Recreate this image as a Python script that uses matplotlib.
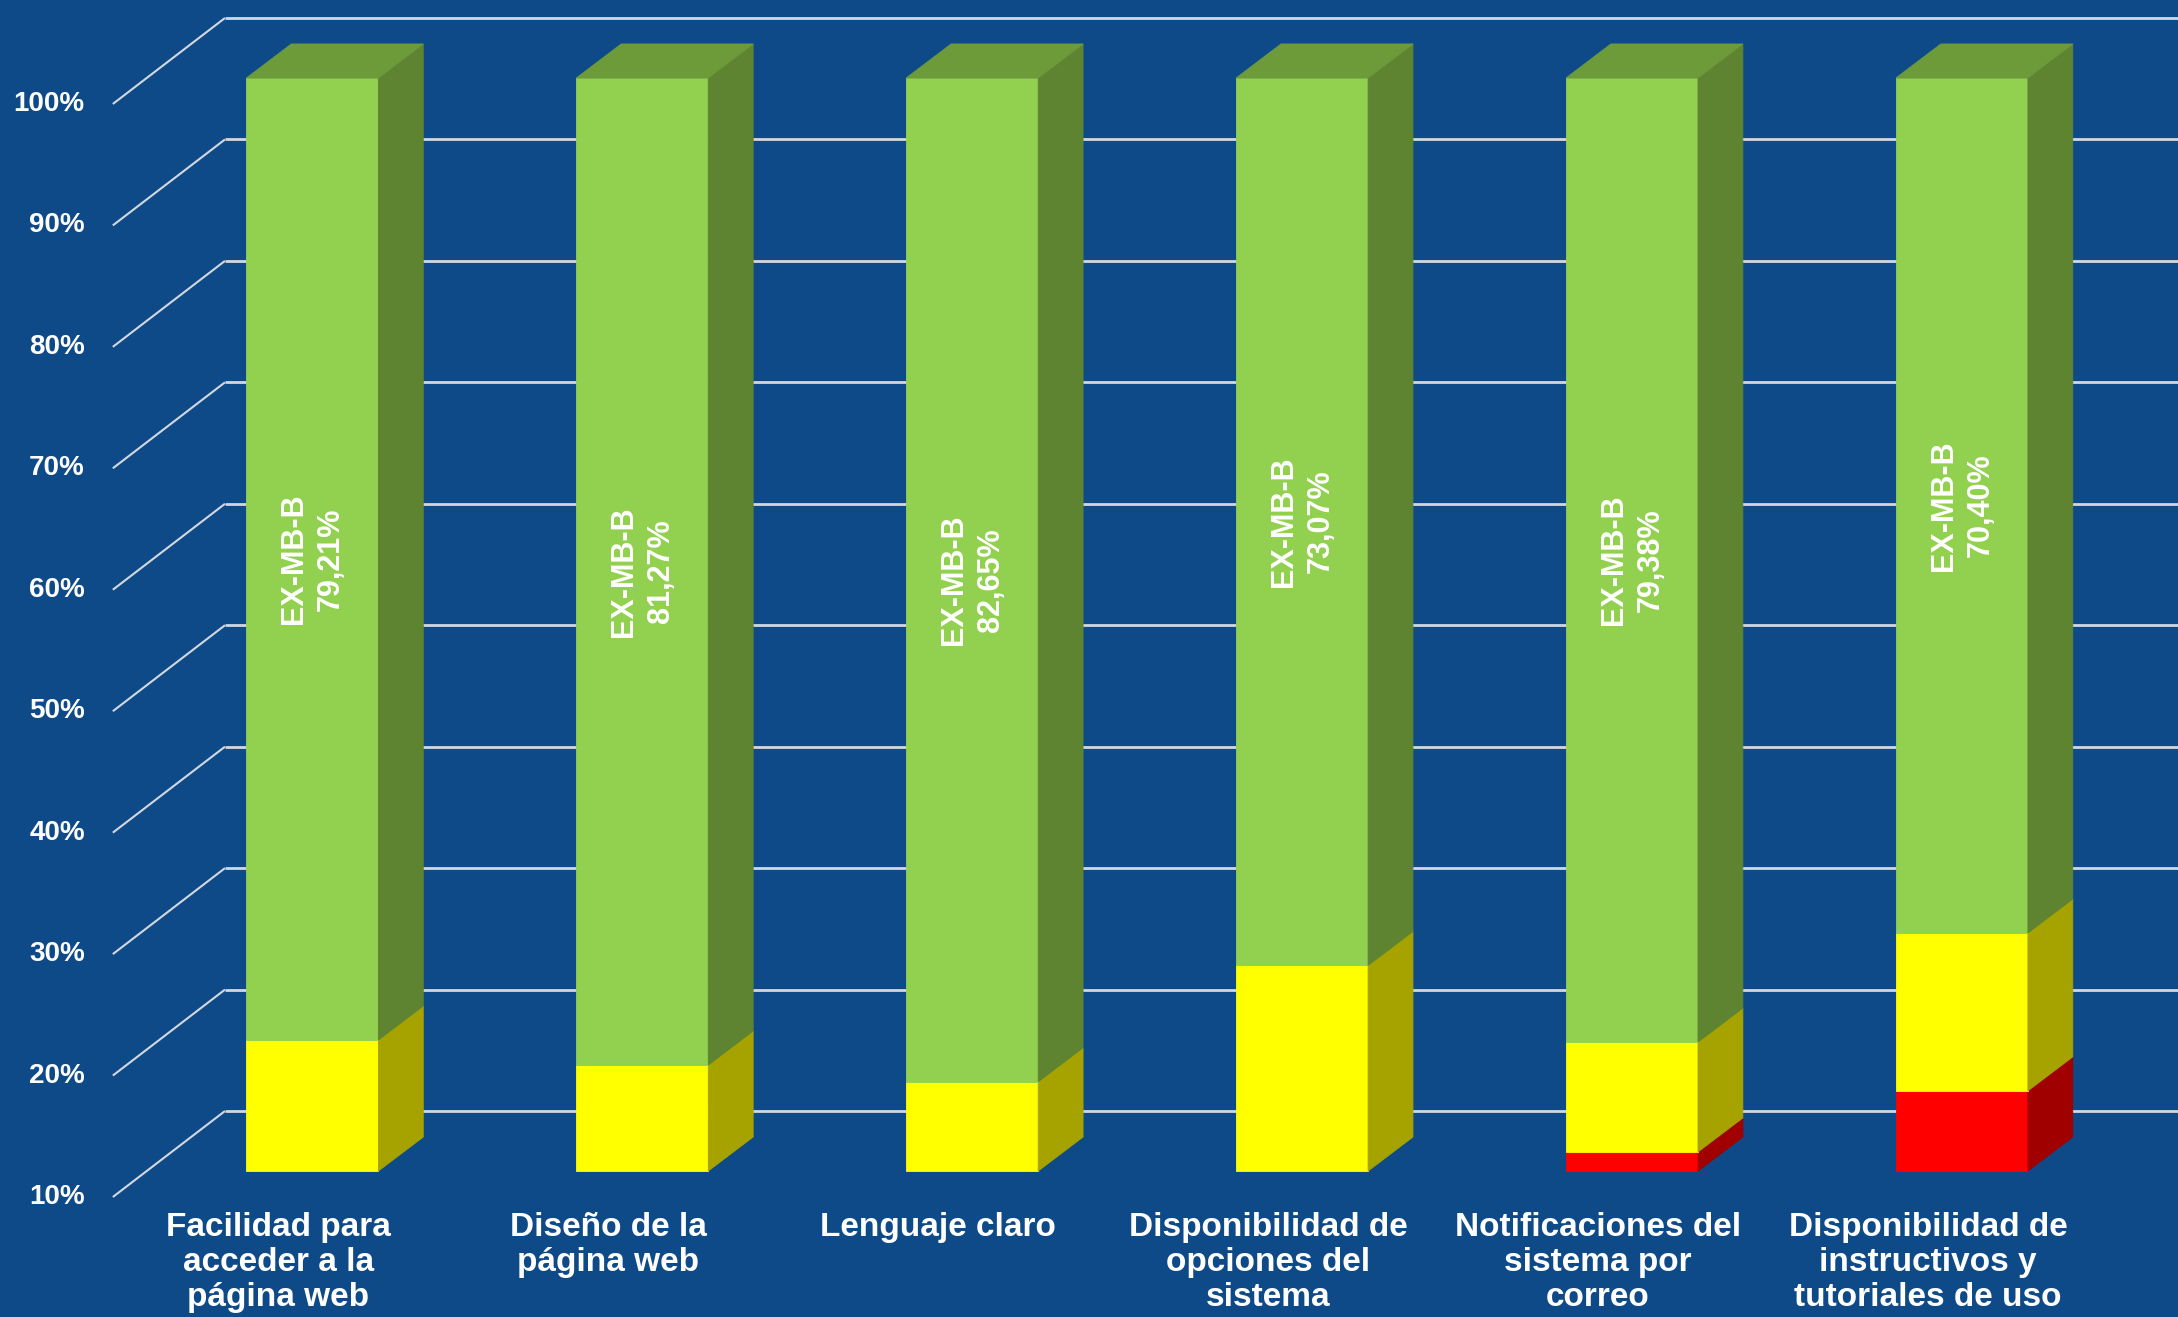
import numpy as np
import matplotlib
matplotlib.use('Agg')
import matplotlib.pyplot as plt
from matplotlib.patches import Polygon

plt.rcParams['font.family'] = ['Liberation Sans', 'DejaVu Sans']

# Data (percent of answers per item)
categories = ['Facilidad para\nacceder a la\npágina web',
              'Diseño de la\npágina web',
              'Lenguaje claro',
              'Disponibilidad de\nopciones del\nsistema',
              'Notificaciones del\nsistema por\ncorreo',
              'Disponibilidad de\ninstructivos y\ntutoriales de uso']
red_vals = [0.0, 0.0, 0.0, 0.0, 11.57, 16.60]
yellow_vals = [20.79, 18.73, 17.35, 26.93, 9.05, 13.00]
green_vals = [79.21, 81.27, 82.65, 73.07, 79.38, 70.40]
green_labels = ['79,21%', '81,27%', '82,65%', '73,07%', '79,38%', '70,40%']
y_ticks = [10, 20, 30, 40, 50, 60, 70, 80, 90, 100]

bg = '#0E4A88'
grid_col = '#D3D8E0'
faces = {
    'red':    ('#FF0000', '#A00000', '#C00000'),
    'yellow': ('#FFFF00', '#A6A300', '#C8C800'),
    'green':  ('#92D050', '#5E8432', '#6D9B3A'),
}

ymin = 10
width = 0.4
dx, dy = 0.136, 2.8          # bar depth (side/top faces)
front_dx, front_dy = -0.103, -2.14   # front plane of the floor/axis
back_dx, back_dy = 0.34, 7.08        # from front plane to back wall

fig = plt.figure(figsize=(21.78, 13.17), dpi=100, facecolor=bg)
ax = fig.add_axes([0, 0, 1, 1])
ax.set_facecolor(bg)
ax.set_xlim(-0.947, 5.655)
ax.set_ylim(-2.02, 106.42)
ax.axis('off')

# walls: gridlines on back wall, diagonals on the side wall
x_axis_front = -0.605
for v in y_ticks:
    yf = v + front_dy
    ax.plot([x_axis_front, x_axis_front + back_dx], [yf, yf + back_dy],
            color=grid_col, lw=1.5, zorder=1, solid_capstyle='butt')
    ax.plot([x_axis_front + back_dx, 5.7], [yf + back_dy, yf + back_dy],
            color=grid_col, lw=2, zorder=1, solid_capstyle='butt')
    ax.text(x_axis_front - 0.085, yf, f'{v}%', color='white', fontsize=20,
            fontweight='bold', ha='right', va='center')

x = np.arange(len(categories))
red = np.array(red_vals)
yellow = np.array(yellow_vals)
green = np.array(green_vals)
stack = [('red', np.zeros(len(x)), red),
         ('yellow', red, red + yellow),
         ('green', red + yellow, red + yellow + green)]

for name, bottoms, tops in stack:
    front, side, top_c = faces[name]
    b = np.maximum(bottoms, ymin)
    t = np.maximum(tops, ymin)
    h = t - b
    keep = h > 0
    ax.bar(x[keep], h[keep], width=width, bottom=b[keep], color=front,
           edgecolor=front, linewidth=0.6, zorder=3)
    for xi, bi, ti in zip(x, b, t):
        if ti <= bi:
            continue
        x1 = xi + width / 2
        ax.add_patch(Polygon([(x1, bi), (x1 + dx, bi + dy), (x1 + dx, ti + dy), (x1, ti)],
                             closed=True, facecolor=side, edgecolor=side, lw=0.6, zorder=3))
        if name == 'green':
            x0 = xi - width / 2
            ax.add_patch(Polygon([(x0, ti), (x1, ti), (x1 + dx, ti + dy), (x0 + dx, ti + dy)],
                                 closed=True, facecolor=top_c, edgecolor=top_c, lw=0.6, zorder=3))

# data labels inside the green segment
for xi, lo, g, lab in zip(x, red + yellow, green, green_labels):
    ax.text(xi, lo + g / 2, 'EX-MB-B\n' + lab, rotation=90, color='white',
            fontsize=22, fontweight='bold', ha='center', va='center',
            multialignment='center', zorder=5, linespacing=1.29)

# category labels
for xi, cat in zip(x, categories):
    ax.text(xi + front_dx, ymin + front_dy - 1.2, cat, color='white', fontsize=24,
            fontweight='bold', ha='center', va='top', linespacing=1.18)

fig.savefig('out.png', dpi=100, facecolor=bg)
